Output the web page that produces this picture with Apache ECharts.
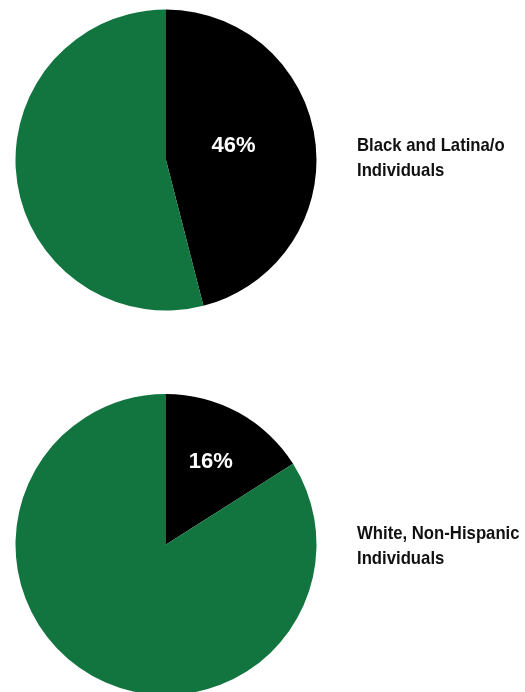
<!DOCTYPE html>
<html>
<head>
<meta charset="utf-8">
<script src="https://cdn.jsdelivr.net/npm/echarts@6/dist/echarts.min.js"></script>
<style>
html,body{margin:0;padding:0;background:#fff;}
#chart{width:525px;height:692px;}
</style>
</head>
<body>
<div id="chart"></div>
<script>
const groupLabels = ['Black and Latina/o\nIndividuals', 'White, Non-Hispanic\nIndividuals'];
const sliceNames = ['Share', 'Rest'];
const shareValues = [46, 16];
const restValues = [54, 84];

const FONT = '"Liberation Sans", Arial, sans-serif';
const centers = [[166, 160], [166, 544.5]];
const labelOffsets = [[-10, -4], [7, -14]];
const titleTops = [133, 521];

const chart = echarts.init(document.getElementById('chart'), null, {renderer: 'canvas'});

const series = shareValues.map((v, i) => ({
  type: 'pie',
  center: centers[i],
  radius: 150.5,
  startAngle: 90,
  clockwise: true,
  silent: true,
  animation: false,
  avoidLabelOverlap: false,
  labelLine: {show: false},
  itemStyle: {borderWidth: 0},
  data: [
    {
      name: sliceNames[0], value: v,
      itemStyle: {color: '#000000'},
      label: {
        show: true, position: 'inside', formatter: '{c}%',
        color: '#ffffff', fontFamily: FONT, fontWeight: 'bold', fontSize: 22,
        offset: labelOffsets[i]
      }
    },
    {
      name: sliceNames[1], value: restValues[i],
      itemStyle: {color: '#127540'},
      label: {show: false}
    }
  ]
}));

const graphics = groupLabels.map((t, i) => ({
  type: 'text',
  x: 357,
  y: titleTops[i],
  scaleX: 0.88,
  silent: true,
  style: {
    text: t,
    font: 'bold 19px ' + FONT,
    lineHeight: 25,
    fill: '#111111',
    align: 'left',
    verticalAlign: 'top'
  }
}));

chart.setOption({
  backgroundColor: '#ffffff',
  animation: false,
  graphic: graphics,
  series: series
});
</script>
</body>
</html>
